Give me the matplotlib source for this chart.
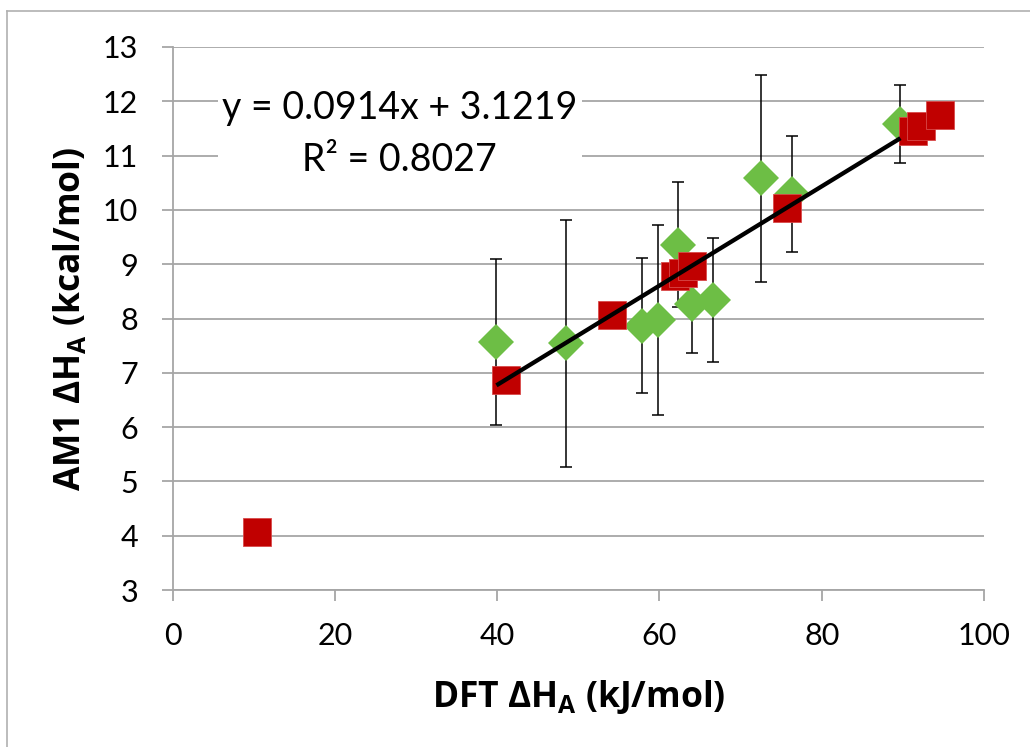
import matplotlib
matplotlib.use("Agg")
import matplotlib.pyplot as plt
from matplotlib.lines import Line2D
import numpy as np

# AM1 vs DFT enthalpies, with standard deviations for the AM1 set
green_x = [39.9, 48.5, 57.8, 59.8, 62.3, 64.0, 66.6, 72.5, 76.3, 89.7]
green_y = [7.57, 7.54, 7.87, 7.97, 9.36, 8.27, 8.34, 10.58, 10.29, 11.58]
green_err = [1.53, 2.28, 1.25, 1.75, 1.15, 0.90, 1.15, 1.90, 1.07, 0.72]

red_x = [10.4, 41.1, 54.2, 61.9, 62.9, 64.0, 75.7, 91.2, 92.2, 94.6]
red_y = [4.07, 6.87, 8.06, 8.78, 8.84, 8.96, 10.03, 11.45, 11.54, 11.75]

slope = 0.0914
intercept = 3.1219
r_squared = 0.8027

x_ticks = [0, 20, 40, 60, 80, 100]
y_ticks = [3, 4, 5, 6, 7, 8, 9, 10, 11, 12, 13]

plt.rcParams['font.family'] = ['Lato', 'DejaVu Sans']
plt.rcParams['mathtext.fontset'] = 'custom'
plt.rcParams['mathtext.rm'] = 'Open Sans'
plt.rcParams['mathtext.bf'] = 'Open Sans:bold'

W, H = 1030, 747
fig = plt.figure(figsize=(W / 100, H / 100), dpi=100)
ax = fig.add_axes([172.7 / W, 1 - 590 / H, (984 - 172.7) / W, (590 - 47) / H])

grid_c = '#a6a6a6'
ax.set_xlim(0, 100)
ax.set_ylim(3, 13)
ax.set_xticks(x_ticks)
ax.set_yticks(y_ticks)
ax.yaxis.grid(True, color=grid_c, linewidth=1.3, zorder=0)
ax.set_axisbelow(True)
for s in ['top', 'right']:
    ax.spines[s].set_visible(False)
for s in ['left', 'bottom']:
    ax.spines[s].set_color(grid_c)
    ax.spines[s].set_linewidth(1.3)
ax.tick_params(axis='both', direction='out', length=8, width=1.3, color=grid_c,
               labelsize=22, labelcolor='black')
ax.tick_params(axis='y', pad=17)
ax.tick_params(axis='x', pad=15)

# error bars under the diamonds
ax.errorbar(green_x, green_y, yerr=green_err, fmt='none', ecolor='black',
            elinewidth=1.1, capsize=4.3, capthick=1.1, zorder=2)
ax.plot(green_x, green_y, linestyle='none', marker='D', markersize=18,
        color='#6dbe45', markeredgewidth=0, zorder=3)
ax.plot(red_x, red_y, linestyle='none', marker='s', markersize=19.5,
        markerfacecolor='#c00000', markeredgecolor='#d84a4a',
        markeredgewidth=0.6, zorder=4)

# linear trendline over the range of the diamond series
tx = np.array([min(green_x), max(green_x)])
ax.plot(tx, slope * tx + intercept, color='black', linewidth=3.1,
        solid_capstyle='butt', zorder=5)

ax.text(28.0, 11.40, f"y = {slope}x + {intercept}\nR² = {r_squared}",
        ha='center', va='center', fontsize=27, linespacing=1.55,
        bbox=dict(facecolor='white', edgecolor='none', pad=3), zorder=6)

label_font = dict(family='Open Sans', fontsize=25.5, fontweight='bold')
ax.set_xlabel(r"DFT $\mathbf{\Delta H_A}$ (kJ/mol)", labelpad=20, **label_font)
ax.set_ylabel(r"AM1 $\mathbf{\Delta H_A}$ (kcal/mol)", labelpad=10, **label_font)

# outer chart frame
fig.add_artist(Line2D([7 / W, 7 / W], [0, 1 - 11 / H], transform=fig.transFigure,
                      color='#b0b0b0', linewidth=1.2))
fig.add_artist(Line2D([7 / W, 1], [1 - 11 / H, 1 - 11 / H], transform=fig.transFigure,
                      color='#b0b0b0', linewidth=1.2))

fig.savefig('out.png', dpi=100, facecolor='white')
